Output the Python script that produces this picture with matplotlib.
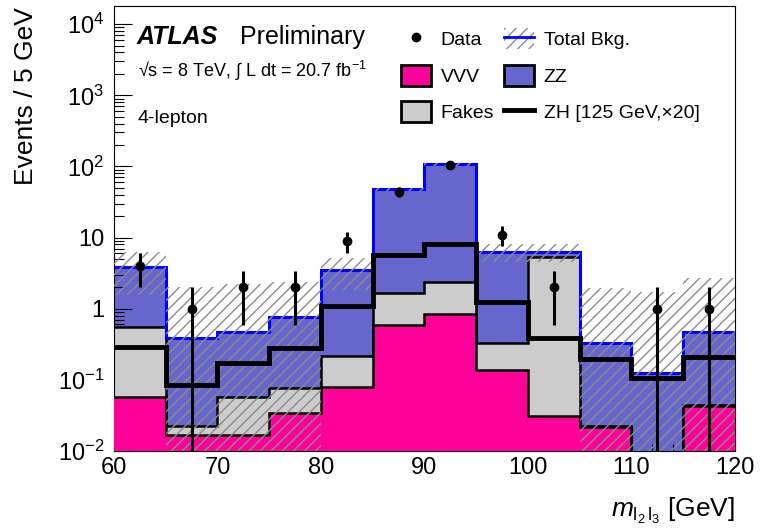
import numpy as np
import matplotlib
matplotlib.use("Agg")
import matplotlib.pyplot as plt
from matplotlib.patches import Patch
from matplotlib.lines import Line2D
from matplotlib.ticker import FixedLocator, FixedFormatter, MultipleLocator, LogLocator, NullFormatter

plt.rcParams['font.family'] = ['Liberation Sans', 'DejaVu Sans']
plt.rcParams['mathtext.fontset'] = 'custom'
plt.rcParams['mathtext.rm'] = 'Liberation Sans'
plt.rcParams['mathtext.it'] = 'Liberation Sans:italic'
plt.rcParams['hatch.linewidth'] = 1.0

# m(l2 l3) binning, 5 GeV bins
edges = np.arange(60, 125, 5)
centers = 0.5 * (edges[1:] + edges[:-1])

data = np.array([4, 1, 2, 2, 9, 44, 104, 11, 2, 0, 1, 1])
vvv = np.array([0.058, 0.0168, 0.017, 0.0338, 0.080, 0.589, 0.832, 0.137, 0.0313, 0.0215, 0.004, 0.0429])
fakes = np.array([0.488, 0.0056, 0.041, 0.0437, 0.138, 1.05, 1.51, 0.195, 5.33, 0.001, 0.002, 0.001])
zz = np.array([3.33, 0.368, 0.416, 0.676, 3.26, 45.8, 104.7, 5.97, 0.94, 0.31, 0.12, 0.43])
bkg_err = np.array([2.3, 1.64, 1.74, 1.64, 1.63, 3.0, 6.0, 1.72, 1.72, 1.64, 1.6, 2.27])
zh = np.array([0.0143, 0.00423, 0.00855, 0.01385, 0.0545, 0.283, 0.4035, 0.0625, 0.0192, 0.0097, 0.00525, 0.01055])
zh_scale = 20

yticks = [1e-2, 1e-1, 1, 10, 1e2, 1e3, 1e4]
ytick_labels = ['$10^{-2}$', '$10^{-1}$', '1', '10', '$10^{2}$', '$10^{3}$', '$10^{4}$']
xticks = [60, 70, 80, 90, 100, 110, 120]

c_vvv = '#ff0099'
c_zz = '#6666cc'
c_fakes = '#cccccc'
c_hatch = '#8c8c8c'

floor = 1e-4
cum_vf = vvv + fakes
total = cum_vf + zz
band_hi = total + bkg_err
band_lo = np.maximum(total - bkg_err, floor)

fig = plt.figure(figsize=(7.63, 5.32), dpi=100)
ax = fig.add_axes([0.1494, 0.1523, 0.8139, 0.8364])
ax.set_yscale('log')

# stacked backgrounds, drawn back to front from zero
ax.stairs(total, edges, baseline=floor, fill=True, color=c_zz, zorder=1)
ax.stairs(cum_vf, edges, baseline=floor, fill=True, color=c_fakes, zorder=2)
ax.stairs(vvv, edges, baseline=floor, fill=True, color=c_vvv, zorder=3)
ax.stairs(cum_vf, edges, baseline=None, color='k', lw=1.8, zorder=4)
ax.stairs(vvv, edges, baseline=None, color='k', lw=1.8, zorder=4)
ax.stairs(total, edges, baseline=None, color='#0000ff', lw=2.2, zorder=5)

# background uncertainty band
ax.stairs(band_hi, edges, baseline=band_lo, fill=True, facecolor='none',
          edgecolor=c_hatch, hatch='///', lw=0, zorder=6)

# signal overlay
ax.stairs(zh * zh_scale, edges, baseline=None, color='k', lw=3.5, zorder=7)

# data with sqrt(N) errors
m = data > 0
err = np.sqrt(data[m])
err_lo = np.minimum(err, data[m] - 1e-5)
ax.errorbar(centers[m], data[m], yerr=[err_lo, err], fmt='o', color='k',
            ms=6, elinewidth=2.2, capsize=0, zorder=8)

ax.set_xlim(60, 120)
ax.set_ylim(1e-2, 1.8e4)

ax.xaxis.set_major_locator(FixedLocator(xticks))
ax.xaxis.set_minor_locator(MultipleLocator(2))
ax.yaxis.set_major_locator(FixedLocator(yticks))
ax.yaxis.set_major_formatter(FixedFormatter(ytick_labels))
ax.yaxis.set_minor_locator(LogLocator(base=10, subs=np.arange(2, 10)))
ax.yaxis.set_minor_formatter(NullFormatter())

ax.tick_params(axis='both', which='both', direction='in', width=0.8, labelsize=17)
ax.tick_params(axis='x', which='major', length=8.5, pad=4)
ax.tick_params(axis='x', which='minor', length=5)
ax.tick_params(axis='y', which='major', length=13, pad=7)
ax.tick_params(axis='y', which='minor', length=7)
for s in ax.spines.values():
    s.set_linewidth(0.8)

fig.text(26 / 763, 0.987, 'Events / 5 GeV', rotation=90, ha='center', va='top', fontsize=19)
fig.text(0.963, 0.028, r'$m_{\mathrm{l}_2\,\mathrm{l}_3}$ [GeV]', ha='right', va='baseline', fontsize=19)

ax.text(0.037, 0.9146, 'ATLAS', transform=ax.transAxes, fontsize=18,
        fontweight='bold', fontstyle='italic', va='baseline')
ax.text(0.203, 0.9146, 'Preliminary', transform=ax.transAxes, fontsize=18, va='baseline')
ax.text(0.038, 0.841, '√s = 8 TeV, ∫ L dt = 20.7 fb$^{-1}$', transform=ax.transAxes,
        fontsize=13, va='baseline')
ax.text(0.038, 0.738, '4-lepton', transform=ax.transAxes, fontsize=14, va='baseline')

h_data = Line2D([], [], marker='o', color='k', ls='none', ms=6)
h_total = (Patch(facecolor='none', edgecolor=c_hatch, hatch='///', lw=0),
           Line2D([], [], color='#0000ff', lw=2))
h_vvv = Patch(facecolor=c_vvv, edgecolor='k', lw=2)
h_zz = Patch(facecolor=c_zz, edgecolor='k', lw=2)
h_fakes = Patch(facecolor=c_fakes, edgecolor='k', lw=2)
h_zh = Line2D([], [], color='k', lw=3.5)

ax.legend([h_data, h_vvv, h_fakes, h_total, h_zz, h_zh],
          ['Data', 'VVV', 'Fakes', 'Total Bkg.', 'ZZ', 'ZH [125 GeV,×20]'],
          ncol=2, loc='upper left', bbox_to_anchor=(0.462, 0.95), frameon=False,
          fontsize=14, handlelength=1.55, handleheight=1.3, handletextpad=0.5,
          columnspacing=0.5, labelspacing=0.78, borderpad=0, borderaxespad=0)

fig.savefig('out.png', dpi=100)
